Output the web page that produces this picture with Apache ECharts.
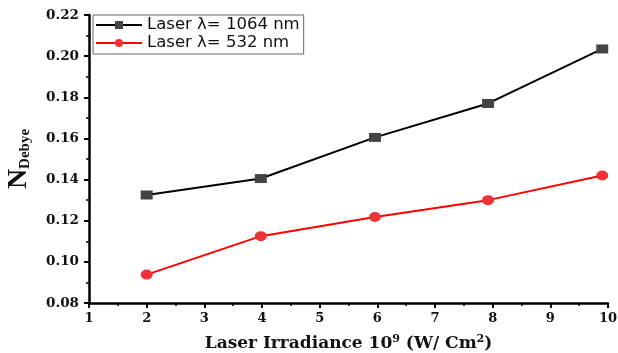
<!DOCTYPE html>
<html><head><meta charset="utf-8">
<script src="https://cdn.jsdelivr.net/npm/echarts@6/dist/echarts.min.js"></script>
<style>html,body{margin:0;padding:0;background:#fff}#c{width:618px;height:353px}</style>
</head><body><div id="c"></div>
<script>
const irradiance = [2, 3.98, 5.96, 7.92, 9.9];
const nDebye1064 = [0.1325, 0.1405, 0.1605, 0.1770, 0.2035];
const nDebye532 = [0.0938, 0.1125, 0.1218, 0.1300, 0.1420];
const seriesNames = ['Laser λ= 1064 nm', 'Laser λ= 532 nm'];

const chart = echarts.init(document.getElementById('c'));
const serif = '"DejaVu Serif","Liberation Serif",serif';
const tserif = '"Liberation Serif","Times New Roman",serif';
chart.setOption({
  animation: false,
  grid: {left: 89, right: 10, top: 15, bottom: 50, containLabel: false, outerBoundsMode: 'none'},
  legend: {
    left: 93, top: 15, orient: 'vertical', itemGap: 0,
    itemWidth: 46, itemHeight: 10,
    padding: [1, 4, 2, 2],
    borderColor: '#666', borderWidth: 1, backgroundColor: '#fff',
    textStyle: {fontFamily: '"DejaVu Sans",sans-serif', fontSize: 16.5, lineHeight: 18, color: '#111'},
    data: seriesNames
  },
  xAxis: {
    type: 'value', min: 1, max: 10, interval: 1,
    axisLine: {lineStyle: {color: '#000', width: 2.5}},
    axisTick: {show: true, length: 5, lineStyle: {color: '#000', width: 2}},
    minorTick: {show: true, splitNumber: 2, length: 3, lineStyle: {color: '#000', width: 1.5}},
    splitLine: {show: false},
    axisLabel: {fontFamily: serif, fontWeight: 'bold', fontSize: 13, color: '#111', margin: 9},
    name: 'Laser Irradiance 10{sup|9} (W/ Cm{sup|2})',
    nameLocation: 'middle', nameGap: 31,
    nameTextStyle: {fontFamily: serif, fontWeight: 'bold', fontSize: 17, color: '#111',
      rich: {sup: {fontFamily: serif, fontWeight: 'bold', fontSize: 11, verticalAlign: 'top', padding: [0, 0, 8, 0]}}}
  },
  yAxis: {
    type: 'value', min: 0.08, max: 0.22, interval: 0.02,
    axisLine: {show: true, lineStyle: {color: '#000', width: 2.5}},
    axisTick: {show: true, length: 5, lineStyle: {color: '#000', width: 2}},
    minorTick: {show: true, splitNumber: 2, length: 3, lineStyle: {color: '#000', width: 1.5}},
    splitLine: {show: false},
    axisLabel: {fontFamily: serif, fontWeight: 'bold', fontSize: 13.5, color: '#111', margin: 10,
      formatter: v => v.toFixed(2)},
    name: '{n|N}{sub|Debye}',
    nameLocation: 'middle', nameGap: 56,
    nameTextStyle: {
      rich: {
        n: {fontFamily: tserif, fontWeight: 'bold', fontSize: 28, color: '#111'},
        sub: {fontFamily: tserif, fontWeight: 'bold', fontSize: 15, color: '#111', verticalAlign: 'bottom', padding: [12, 0, 0, 0]}
      }
    }
  },
  series: [
    {name: seriesNames[0], type: 'line', data: irradiance.map((x, i) => [x, nDebye1064[i]]),
     symbol: 'rect', symbolSize: [12, 9],
     itemStyle: {color: '#444'}, lineStyle: {color: '#000', width: 2}},
    {name: seriesNames[1], type: 'line', data: irradiance.map((x, i) => [x, nDebye532[i]]),
     symbol: 'circle', symbolSize: [12, 10],
     itemStyle: {color: '#ee3338'}, lineStyle: {color: '#ff0000', width: 2}}
  ]
});
</script></body></html>
